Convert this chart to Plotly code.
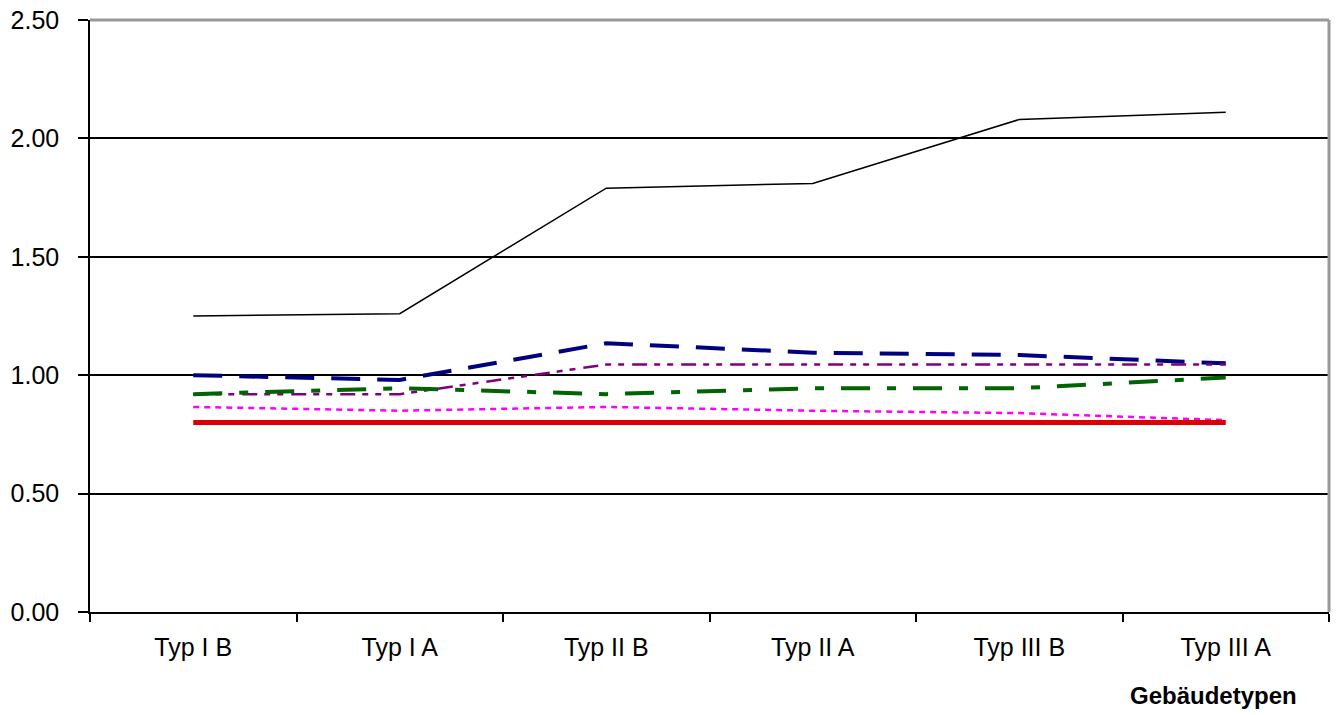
import plotly.graph_objects as go

categories = ["Typ I B", "Typ I A", "Typ II B", "Typ II A", "Typ III B", "Typ III A"]
series_black = [1.25, 1.26, 1.79, 1.81, 2.08, 2.11]
series_navy = [1.00, 0.98, 1.135, 1.095, 1.085, 1.05]
series_purple = [0.92, 0.92, 1.045, 1.045, 1.045, 1.045]
series_green = [0.92, 0.945, 0.92, 0.945, 0.945, 0.99]
series_magenta = [0.866, 0.85, 0.866, 0.85, 0.84, 0.81]
series_red = [0.80, 0.80, 0.80, 0.80, 0.80, 0.80]
y_ticks = [0.0, 0.5, 1.0, 1.5, 2.0, 2.5]
x_title = "Gebäudetypen"

fig = go.Figure()
styles = [
    ("Reihe 1", series_black, "#000000", 1.5, "solid"),
    ("Reihe 2", series_navy, "#000080", 4, "29px,17px"),
    ("Reihe 3", series_purple, "#800080", 2.5, "15px,7px,6px,7px,6px,8px"),
    ("Reihe 4", series_green, "#006400", 4, "29px,17px,9px,17px"),
    ("Reihe 5", series_magenta, "#FF00FF", 2.5, "6px,5px"),
    ("Reihe 6", series_red, "#DD0000", 5, "solid"),
]
for name, vals, color, width, dash in styles:
    fig.add_trace(go.Scatter(x=categories, y=vals, mode="lines", name=name,
                             line=dict(color=color, width=width, dash=dash),
                             showlegend=False, cliponaxis=False))

font = dict(family="Liberation Sans, Arial, sans-serif", size=25, color="#000000")

W, H = 1338, 715
L, T, R, B = 90, 20, 9, 103

fig.update_layout(
    width=W, height=H,
    margin=dict(l=L, r=R, t=T, b=B, autoexpand=False),
    paper_bgcolor="white", plot_bgcolor="white",
    font=font,
    xaxis=dict(type="category", range=[-0.5, 5.5], showgrid=False, automargin=False,
               showline=True, linecolor="black", linewidth=1.5,
               ticks="outside", tickson="boundaries", ticklen=8, tickcolor="black",
               tickwidth=1.5, ticklabelstandoff=12, zeroline=False),
    yaxis=dict(range=[0, 2.5], tickvals=y_ticks, tickformat=".2f", automargin=False,
               showgrid=True, gridcolor="black", gridwidth=1.5,
               showline=True, linecolor="black", linewidth=1.5,
               ticks="outside", ticklen=10, tickcolor="black", tickwidth=1.5,
               ticklabelstandoff=14, zeroline=False),
    annotations=[dict(text="<b>" + x_title + "</b>", xref="paper", yref="paper",
                      x=(1299 - L) / (W - L - R), y=-(695 - (H - B)) / (H - B - T),
                      xanchor="right", yanchor="middle",
                      showarrow=False, font=dict(family=font["family"], size=24, color="black"))],
    shapes=[
        dict(type="line", xref="paper", yref="paper", x0=0, x1=1, y0=1, y1=1,
             line=dict(color="#999999", width=3), layer="above"),
        dict(type="line", xref="paper", yref="paper", x0=1, x1=1, y0=0, y1=1,
             line=dict(color="#999999", width=3), layer="above"),
    ],
)

fig.write_html("out.html", config={"displayModeBar": False},
               post_script="document.body.style.margin='0';")
